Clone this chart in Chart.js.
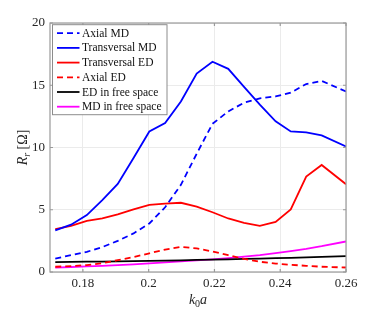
<!DOCTYPE html>
<html>
<head>
<meta charset="utf-8">
<script src="https://cdn.jsdelivr.net/npm/chart.js@4"></script>
<style>
  html, body { margin: 0; padding: 0; background: #fff; }
  #wrap { width: 382px; height: 309px; }
</style>
</head>
<body>
<div id="wrap"><canvas id="chart" width="382" height="309"></canvas></div>
<script>
// Radiation resistance vs k0a

// x values
const kValues = [0.1716, 0.1764, 0.1812, 0.1859, 0.1906, 0.1954, 0.2002, 0.2050, 0.2098, 0.2146,
                 0.2194, 0.2242, 0.2290, 0.2338, 0.2386, 0.2432, 0.2479, 0.2526, 0.2600];

const axialMD = [1.08, 1.35, 1.62, 2.0, 2.5, 3.1, 3.9, 5.2, 7.0, 9.5,
                 11.9, 12.9, 13.6, 13.95, 14.1, 14.4, 15.1, 15.35, 14.5];
const transversalMD = [3.34, 3.8, 4.57, 5.78, 7.07, 9.15, 11.29, 11.97, 13.7, 15.94,
                       16.89, 16.32, 14.87, 13.44, 12.1, 11.29, 11.21, 10.97, 10.08];
const transversalED = [3.44, 3.7, 4.1, 4.3, 4.63, 5.03, 5.4, 5.5, 5.56, 5.25,
                       4.8, 4.3, 3.95, 3.7, 4.03, 5.03, 7.66, 8.6, 7.05];
const axialED = [0.42, 0.48, 0.55, 0.7, 0.95, 1.2, 1.5, 1.8, 2.02, 1.9,
                 1.65, 1.35, 1.05, 0.82, 0.68, 0.58, 0.5, 0.42, 0.36];
const edFree = [0.80, 0.81, 0.83, 0.84, 0.86, 0.88, 0.90, 0.92, 0.94, 0.97,
                0.99, 1.02, 1.05, 1.08, 1.11, 1.14, 1.18, 1.22, 1.28];
const mdFree = [0.35, 0.40, 0.45, 0.50, 0.56, 0.62, 0.69, 0.77, 0.85, 0.93,
                1.02, 1.12, 1.23, 1.35, 1.52, 1.68, 1.86, 2.07, 2.45];

const xTicks = [0.18, 0.2, 0.22, 0.24, 0.26];
const xTickLabels = ['0.18', '0.2', '0.22', '0.24', '0.26'];
const yTicks = [0, 5, 10, 15, 20];
const yTickLabels = ['0', '5', '10', '15', '20'];

const serif = '"Liberation Serif", "DejaVu Serif", serif';

function pts(arr) {
    return kValues.map((k, i) => ({ x: k, y: arr[i] }));
}

function series(label, arr, color, dashed) {
    return {
        label: label,
        data: pts(arr),
        borderColor: color,
        backgroundColor: color,
        borderWidth: 1.8,
        borderDash: dashed ? [6, 4] : [],
        pointRadius: 0,
        tension: 0,
        fill: false
    };
}

// box, inner ticks, axis titles and legend, drawn the matlab way
const decorPlugin = {
    id: 'decor',
    afterDraw(chart) {
        const ctx = chart.ctx;
        const a = chart.chartArea;
        const xs = chart.scales.x;
        const ys = chart.scales.y;
        ctx.save();

        // box
        ctx.strokeStyle = '#9a9a9a';
        ctx.lineWidth = 1.2;
        ctx.strokeRect(a.left, a.top, a.right - a.left, a.bottom - a.top);

        // inner tick marks
        ctx.beginPath();
        xTicks.forEach(v => {
            const px = xs.getPixelForValue(v);
            ctx.moveTo(px, a.bottom); ctx.lineTo(px, a.bottom - 3);
            ctx.moveTo(px, a.top); ctx.lineTo(px, a.top + 3);
        });
        yTicks.forEach(v => {
            const py = ys.getPixelForValue(v);
            ctx.moveTo(a.left, py); ctx.lineTo(a.left + 3, py);
            ctx.moveTo(a.right, py); ctx.lineTo(a.right - 3, py);
        });
        ctx.stroke();

        // x title: k_0 a
        ctx.fillStyle = '#262626';
        ctx.textBaseline = 'alphabetic';
        const cx = (a.left + a.right) / 2;
        ctx.font = 'italic 14px ' + serif;
        const wk = ctx.measureText('k').width;
        const wa = ctx.measureText('a').width;
        ctx.font = '10px ' + serif;
        const w0 = ctx.measureText('0').width;
        let x0 = cx - (wk + w0 + wa) / 2;
        ctx.font = 'italic 14px ' + serif;
        ctx.fillText('k', x0, 304);
        ctx.font = '10px ' + serif;
        ctx.fillText('0', x0 + wk, 307);
        ctx.font = 'italic 14px ' + serif;
        ctx.fillText('a', x0 + wk + w0, 304);

        // y title: R_r [Ω]
        ctx.save();
        ctx.translate(27, (a.top + a.bottom) / 2);
        ctx.rotate(-Math.PI / 2);
        ctx.font = 'italic 14px ' + serif;
        const wR = ctx.measureText('R').width;
        ctx.font = 'italic 10px ' + serif;
        const wr = ctx.measureText('r').width;
        ctx.font = '14px ' + serif;
        const wb = ctx.measureText(' [Ω]').width;
        let y0 = -(wR + wr + wb) / 2;
        ctx.font = 'italic 14px ' + serif;
        ctx.fillText('R', y0, 0);
        ctx.font = 'italic 10px ' + serif;
        ctx.fillText('r', y0 + wR, 3);
        ctx.font = '14px ' + serif;
        ctx.fillText(' [Ω]', y0 + wR + wr, 0);
        ctx.restore();

        // legend inside the axes
        const lx = a.left + 2.5, ly = a.top + 1.7;
        const lw = 114.5, lh = 90;
        ctx.fillStyle = '#fff';
        ctx.fillRect(lx, ly, lw, lh);
        ctx.strokeStyle = '#8c8c8c';
        ctx.lineWidth = 1;
        ctx.strokeRect(lx, ly, lw, lh);
        ctx.font = '11.5px ' + serif;
        ctx.textBaseline = 'middle';
        chart.data.datasets.forEach((ds, i) => {
            const ry = ly + 8.5 + i * 14.7;
            ctx.beginPath();
            ctx.strokeStyle = ds.borderColor;
            ctx.lineWidth = 1.8;
            ctx.setLineDash(ds.borderDash);
            ctx.moveTo(lx + 4.5, ry);
            ctx.lineTo(lx + 27, ry);
            ctx.stroke();
            ctx.setLineDash([]);
            ctx.fillStyle = '#111';
            ctx.fillText(ds.label, lx + 29.5, ry + 0.5);
        });

        ctx.restore();
    }
};

new Chart(document.getElementById('chart').getContext('2d'), {
    type: 'line',
    data: {
        datasets: [
            series('Axial MD', axialMD, '#0000ff', true),
            series('Transversal MD', transversalMD, '#0000ff', false),
            series('Transversal ED', transversalED, '#ff0000', false),
            series('Axial ED', axialED, '#ff0000', true),
            series('ED in free space', edFree, '#000000', false),
            series('MD in free space', mdFree, '#ff00ff', false)
        ]
    },
    options: {
        responsive: false,
        animation: false,
        layout: { padding: { left: 0, right: 36, top: 23, bottom: 0 } },
        plugins: {
            legend: { display: false },
            tooltip: { enabled: false }
        },
        scales: {
            x: {
                type: 'linear',
                min: 0.17,
                max: 0.26,
                afterBuildTicks: scale => { scale.ticks = xTicks.map(v => ({ value: v })); },
                afterFit: scale => { scale.height = 37; },
                ticks: {
                    padding: 4,
                    maxRotation: 0,
                    autoSkip: false,
                    color: '#262626',
                    font: { family: serif, size: 13 },
                    callback: (v) => xTickLabels[xTicks.findIndex(t => Math.abs(t - v) < 1e-9)]
                },
                grid: { color: '#ebebeb', lineWidth: 1, drawTicks: false },
                border: { display: false }
            },
            y: {
                type: 'linear',
                min: 0,
                max: 20,
                afterBuildTicks: scale => { scale.ticks = yTicks.map(v => ({ value: v })); },
                afterFit: scale => { scale.width = 50; },
                ticks: {
                    padding: 5,
                    color: '#262626',
                    font: { family: serif, size: 13 },
                    callback: (v) => yTickLabels[yTicks.indexOf(v)]
                },
                grid: { color: '#ebebeb', lineWidth: 1, drawTicks: false },
                border: { display: false }
            }
        }
    },
    plugins: [decorPlugin]
});
</script>
</body>
</html>
